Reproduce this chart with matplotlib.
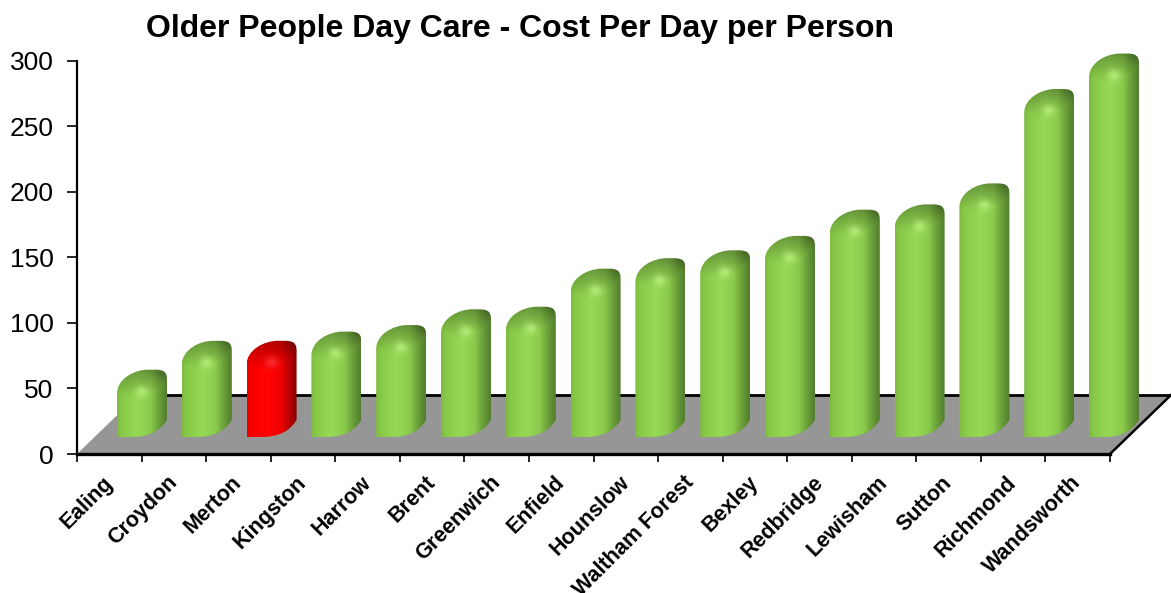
import numpy as np
import matplotlib
matplotlib.use("Agg")
import matplotlib.pyplot as plt
from matplotlib.path import Path
from matplotlib.patches import PathPatch, Polygon
from matplotlib.lines import Line2D

boroughs = ["Ealing", "Croydon", "Merton", "Kingston", "Harrow", "Brent", "Greenwich", "Enfield",
            "Hounslow", "Waltham Forest", "Bexley", "Redbridge", "Lewisham", "Sutton", "Richmond", "Wandsworth"]
cost_per_day = [46, 68, 68, 75, 80, 92, 94, 123, 131, 137, 148, 168, 172, 188, 260, 287]
highlight = "Merton"
y_ticks = [0, 50, 100, 150, 200, 250, 300]

W, H = 1171, 593
plt.rcParams["font.family"] = ["Liberation Sans", "DejaVu Sans"]
fig = plt.figure(figsize=(W / 100, H / 100), dpi=100, facecolor="white")
L, R, T, B = 77, 1110, 60.5, 454
ax = fig.add_axes([L / W, 1 - B / H, (R - L) / W, (B - T) / H])
n = len(boroughs)
ax.set_xlim(0, n)
ax.set_ylim(0, 300)
ax.patch.set_visible(False)
px_x = n / (R - L)      # data units per pixel
px_y = 300 / (B - T)

# floor
depth_x, depth_y = 61 * px_x, 59 * px_y
ax.add_patch(Polygon([(0, 0), (n, 0), (n + depth_x, depth_y), (depth_x, depth_y)],
                     closed=True, fc="#969696", ec="none", clip_on=False, zorder=1))
ax.add_line(Line2D([depth_x, n + depth_x], [depth_y, depth_y], color="black", lw=2, clip_on=False, zorder=1.5))
ax.add_line(Line2D([n, n + depth_x], [0, depth_y], color="black", lw=1.8, clip_on=False, zorder=1.5))

GREEN = dict(stops=[(0, (126, 188, 66)), (.12, (138, 204, 74)), (.42, (150, 218, 86)), (.68, (138, 202, 76)),
                    (.86, (104, 156, 56)), (1, (84, 126, 46))], hi=(195, 248, 135))
RED = dict(stops=[(0, (236, 0, 0)), (.12, (250, 0, 0)), (.42, (255, 4, 4)), (.68, (240, 0, 0)),
                  (.86, (184, 0, 0)), (1, (134, 0, 0))], hi=(255, 60, 60))
BAR_W = 50          # px
BAR_STEP = 64.8     # px between bars
BASE_PX = 17        # front of bar above axis front edge
CAP = 24            # px of rounded top above the shoulder


def outline(x0, shoulder_val):
    """Silhouette of a sheared rounded cylinder, in data units."""
    w = BAR_W * px_x
    base = BASE_PX * px_y
    top = shoulder_val + CAP * px_y
    return Path(
        [(x0, base), (x0 + .3 * w, base), (x0 + .62 * w, base), (x0 + .85 * w, base + 5 * px_y),
         (x0 + w, base + 17 * px_y), (x0 + w, top - 10 * px_y), (x0 + w, top - 2 * px_y), (x0 + .93 * w, top),
         (x0 + .76 * w, top), (x0 + .62 * w, top), (x0 + .35 * w, top), (x0, top - 9 * px_y),
         (x0, shoulder_val), (x0, base)],
        [Path.MOVETO, Path.LINETO, Path.CURVE4, Path.CURVE4, Path.CURVE4, Path.LINETO, Path.CURVE4, Path.CURVE4,
         Path.CURVE4, Path.LINETO, Path.CURVE4, Path.CURVE4, Path.CURVE4, Path.CLOSEPOLY])


def shade(shoulder_val, palette):
    top_val = shoulder_val + CAP * px_y
    height_px = int(round((top_val - BASE_PX * px_y) / px_y))
    u = np.linspace(0, 1, BAR_W * 2)
    yy = np.linspace(0, height_px, height_px * 2)  # px below the silhouette top
    U, Y = np.meshgrid(u, yy)
    pos, cols = zip(*palette["stops"])
    cols = np.array(cols, float)
    body = np.stack([np.interp(U, pos, cols[:, k]) for k in range(3)], axis=-1)
    # boundary between rounded cap and body
    edge = CAP + 44 * U * (.7 - U)
    t = np.clip((edge - Y) / np.maximum(edge, 1), 0, 1)
    dark = 1 - .3 * t ** 1.1
    img = body * dark[..., None]
    spot = np.exp(-(((U - .5) * BAR_W / 6.5) ** 2 + ((Y - (CAP - 2)) / 5.5) ** 2))[..., None]
    img = img * (1 - .7 * spot) + np.array(palette["hi"], float) * .7 * spot
    return np.clip(img, 0, 255).astype(np.uint8)


for i, (name, val) in enumerate(zip(boroughs, cost_per_day)):
    x0 = (40 + i * BAR_STEP) * px_x
    palette = RED if name == highlight else GREEN
    p = outline(x0, val)
    top = val + CAP * px_y
    im = ax.imshow(shade(val, palette), extent=(x0, x0 + BAR_W * px_x, BASE_PX * px_y, top),
                   origin="upper", aspect="auto", interpolation="bilinear", zorder=3)
    im.set_clip_box(fig.bbox)
    im.set_clip_path(PathPatch(p, transform=ax.transData))
ax.set_xlim(0, n)
ax.set_ylim(0, 300)

# axes
for s in ("top", "right"):
    ax.spines[s].set_visible(False)
ax.spines["left"].set_linewidth(1.6)
ax.spines["bottom"].set_linewidth(2.4)
ax.spines["left"].set_zorder(5)
ax.spines["bottom"].set_zorder(5)
ax.set_yticks(y_ticks)
ax.tick_params(axis="y", labelsize=19, length=7, width=1.2, pad=10, colors="black")
ax.set_xticks(np.arange(n + 1))
ax.set_xticklabels([])
ax.tick_params(axis="x", which="major", length=6, width=1.2)
ax.set_xticks(np.arange(n) + .5 - 7 * px_x, minor=True)
ax.set_xticklabels(boroughs, minor=True, rotation=45, ha="right", va="top", rotation_mode="anchor",
                   fontsize=15.5, fontweight="bold")
ax.tick_params(axis="x", which="minor", length=0, pad=13)

fig.text(520.5 / W, 1 - 28.5 / H, "Older People Day Care - Cost Per Day per Person", ha="center", va="center",
         fontsize=23, fontweight="bold")
fig.savefig("out.png", dpi=100, facecolor="white")
